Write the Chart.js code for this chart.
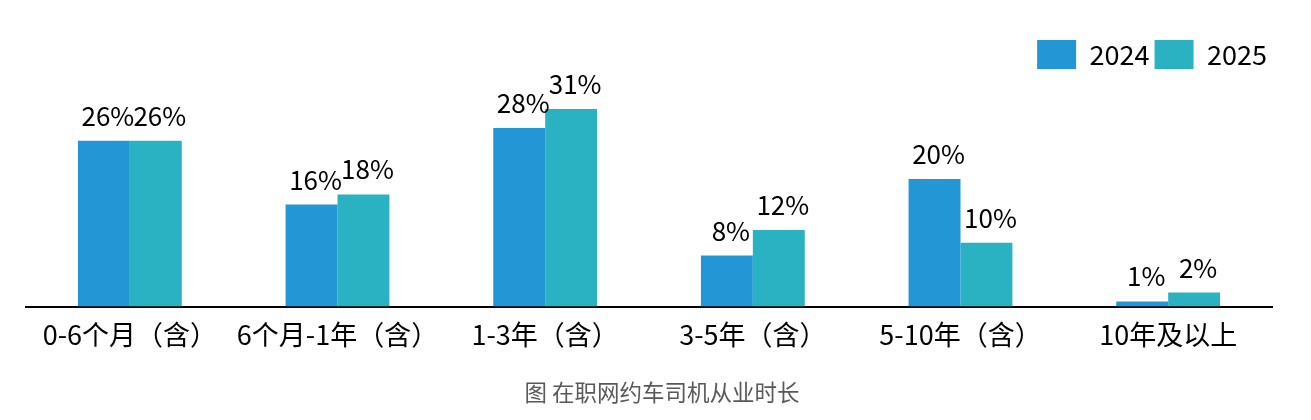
<!DOCTYPE html>
<html><head><meta charset="utf-8">
<script src="https://cdn.jsdelivr.net/npm/chart.js@4/dist/chart.umd.min.js"></script>
<style>html,body{margin:0;padding:0;background:#fff;overflow:hidden;}</style>
</head><body>
<canvas id="c" width="1311" height="420" style="display:block;width:1311px;height:420px"></canvas>
<script>
const categories = ['0-6个月（含）', '6个月-1年（含）', '1-3年（含）', '3-5年（含）', '5-10年（含）', '10年及以上'];
const seriesNames = ['2024', '2025'];
const values2024 = [26, 16, 28, 8, 20, 0.8];
const values2025 = [26, 17.6, 31, 12, 10, 2.2];
const chartTitle = '图 在职网约车司机从业时长';

const FONT = '"Noto Sans CJK SC", "Noto Sans", sans-serif';

const valueLabels = {
  id: 'valueLabels',
  afterDatasetsDraw(chart) {
    const ctx = chart.ctx;
    ctx.save();
    ctx.font = '26px ' + FONT;
    ctx.fillStyle = '#000';
    ctx.textAlign = 'center';
    ctx.textBaseline = 'alphabetic';
    chart.data.datasets.forEach((ds, i) => {
      const meta = chart.getDatasetMeta(i);
      meta.data.forEach((el, j) => {
        ctx.fillText(Math.round(ds.data[j]) + '%', el.x + 4, el.y - 15);
      });
    });
    ctx.restore();
  }
};

const caption = {
  id: 'caption',
  afterDraw(chart) {
    const ctx = chart.ctx;
    ctx.save();
    ctx.font = '22.5px ' + FONT;
    ctx.fillStyle = '#595959';
    ctx.textAlign = 'center';
    ctx.textBaseline = 'middle';
    ctx.fillText(chartTitle, 662, 392);
    ctx.restore();
  }
};

new Chart(document.getElementById('c'), {
  type: 'bar',
  data: {
    labels: categories,
    datasets: [
      { label: seriesNames[0], data: values2024, backgroundColor: '#2397D6', borderWidth: 0 },
      { label: seriesNames[1], data: values2025, backgroundColor: '#2BB2C2', borderWidth: 0 }
    ]
  },
  options: {
    responsive: false,
    animation: false,
    devicePixelRatio: 1,
    layout: { padding: { left: 26, right: 39, top: 35, bottom: 57 } },
    datasets: { bar: { categoryPercentage: 0.5, barPercentage: 1.0 } },
    scales: {
      x: {
        grid: { display: false, drawTicks: false },
        border: { display: true, color: '#000', width: 2 },
        ticks: { color: '#000', font: { family: FONT, size: 27 }, padding: 12, maxRotation: 0, autoSkip: false }
      },
      y: { display: false, min: 0, max: 35.7 }
    },
    plugins: {
      legend: {
        position: 'top',
        align: 'end',
        labels: { boxWidth: 39, boxHeight: 29, padding: 5, color: '#000', font: { family: FONT, size: 27 } }
      },
      title: { display: false },
      tooltip: { enabled: false }
    }
  },
  plugins: [valueLabels, caption]
});
</script>
</body></html>
